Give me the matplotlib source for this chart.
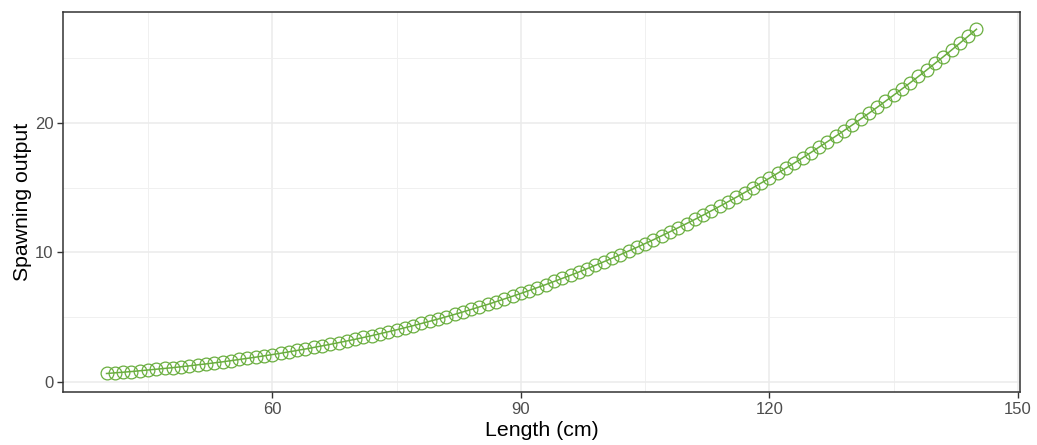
import matplotlib
matplotlib.use("Agg")
import matplotlib.pyplot as plt
from matplotlib.ticker import MultipleLocator

# length (cm), one point per cm
length_cm = list(range(40, 146))

# spawning output
spawning_output = [
    0.65, 0.70, 0.75, 0.80, 0.86, 0.92, 0.98, 1.04, 1.10, 1.17,
    1.24, 1.32, 1.39, 1.47, 1.55, 1.64, 1.73, 1.82, 1.91, 2.01,
    2.11, 2.21, 2.32, 2.43, 2.54, 2.66, 2.78, 2.90, 3.03, 3.16,
    3.29, 3.43, 3.57, 3.72, 3.87, 4.02, 4.18, 4.34, 4.51, 4.68,
    4.85, 5.03, 5.21, 5.40, 5.59, 5.79, 5.98, 6.19, 6.40, 6.61,
    6.83, 7.05, 7.28, 7.51, 7.75, 7.99, 8.23, 8.48, 8.74, 9.00,
    9.27, 9.54, 9.82, 10.10, 10.38, 10.68, 10.97, 11.28, 11.59, 11.90,
    12.22, 12.54, 12.87, 13.21, 13.55, 13.90, 14.25, 14.61, 14.98, 15.35,
    15.72, 16.11, 16.50, 16.89, 17.29, 17.70, 18.12, 18.54, 18.96, 19.39,
    19.83, 20.28, 20.73, 21.19, 21.66, 22.13, 22.61, 23.09, 23.58, 24.08,
    24.59, 25.10, 25.62, 26.15, 26.68, 27.22,
]

x_ticks = [60, 90, 120, 150]
y_ticks = [0, 10, 20]

plt.rcParams["font.family"] = ["Liberation Sans", "DejaVu Sans"]

green = "#6aae3f"
dark = "#333333"

fig = plt.figure(figsize=(10.37, 4.45), dpi=100)
ax = fig.add_axes([0.0608, 0.1191, 0.9228, 0.8539])

ax.plot(length_cm, spawning_output, color=green, linewidth=1.1, zorder=3)
ax.plot(length_cm, spawning_output, linestyle="none", marker="o",
        markersize=9.2, markerfacecolor="none", markeredgecolor=green,
        markeredgewidth=0.9, zorder=4)

span = max(length_cm) - min(length_cm)
ax.set_xlim(min(length_cm) - 0.05 * span, max(length_cm) + 0.05 * span)
yspan = max(spawning_output) - min(spawning_output)
ax.set_ylim(min(spawning_output) - 0.05 * yspan - 0.1,
            max(spawning_output) + 0.05 * yspan)

ax.set_xticks(x_ticks)
ax.set_yticks(y_ticks)
ax.xaxis.set_minor_locator(MultipleLocator(15))
ax.yaxis.set_minor_locator(MultipleLocator(5))

ax.grid(which="major", color="#ebebeb", linewidth=1.1, zorder=0)
ax.grid(which="minor", color="#f0f0f0", linewidth=0.7, zorder=0)
ax.set_axisbelow(True)

for s in ax.spines.values():
    s.set_color(dark)
    s.set_linewidth(1.1)

ax.tick_params(which="major", length=4, width=1.0, color=dark,
               labelcolor="#4d4d4d", labelsize=12, pad=3)
ax.tick_params(which="minor", length=0)

ax.set_xlabel("Length (cm)", fontsize=15.3, color="black", labelpad=3)
ax.set_ylabel("Spawning output", fontsize=15.3, color="black", labelpad=2)

fig.savefig("out.png", dpi=100)
